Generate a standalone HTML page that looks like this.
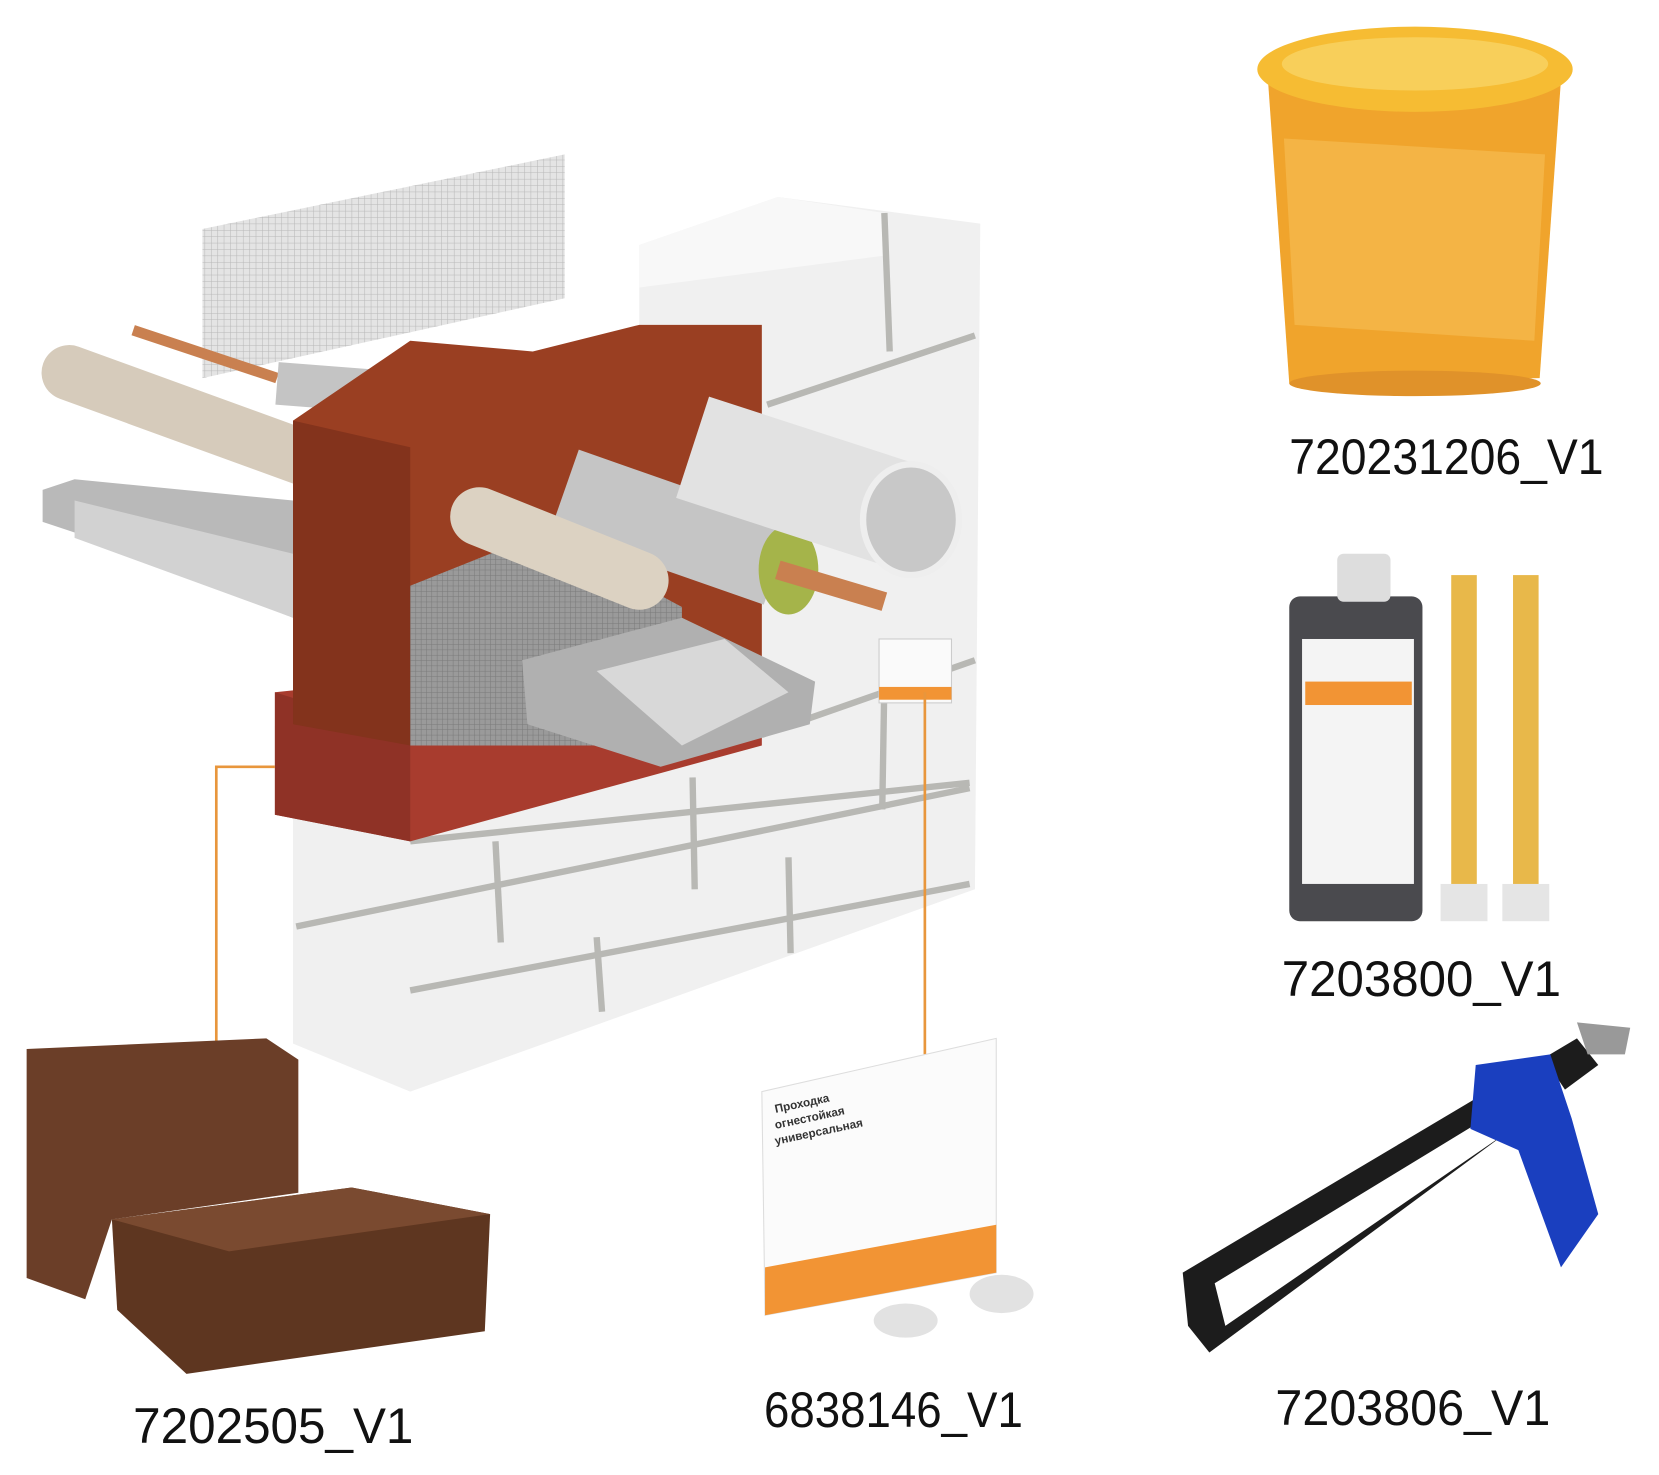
<!DOCTYPE html>
<html><head><meta charset="utf-8"><style>
html,body{margin:0;padding:0;background:#fff;width:1659px;height:1475px;overflow:hidden}
svg{display:block}
text{font-family:"Liberation Sans","Noto Sans CJK SC",sans-serif}
</style></head><body>
<svg width="1659" height="1475" viewBox="0 0 1557 1385" preserveAspectRatio="none" xmlns="http://www.w3.org/2000/svg">
<defs>
<pattern id="grid" width="6" height="6" patternUnits="userSpaceOnUse"><rect width="6" height="6" fill="#e4e4e4"/><path d="M0 0H6M0 0V6" stroke="#b8b8b8" stroke-width="1"/></pattern>
<pattern id="gridd" width="5" height="5" patternUnits="userSpaceOnUse"><rect width="5" height="5" fill="#9a9a9a"/><path d="M0 0H5M0 0V5" stroke="#7a7a7a" stroke-width="1"/></pattern>
</defs>
<!-- mesh -->
<polygon points="190,215 530,145 530,280 190,355" fill="url(#grid)"/>
<!-- back pipes -->
<line x1="125" y1="310" x2="260" y2="355" stroke="#c98050" stroke-width="10"/>
<line x1="65" y1="350" x2="285" y2="430" stroke="#d6cbbb" stroke-width="52" stroke-linecap="round"/>
<line x1="260" y1="360" x2="390" y2="370" stroke="#c4c4c4" stroke-width="40"/>
<polygon points="40,460 70,450 275,470 275,580 70,500 40,490" fill="#b9b9b9"/>
<polygon points="70,470 275,520 275,580 70,505" fill="#d2d2d2"/>
<!-- white wall -->
<polygon points="600,230 730,185 920,210 915,835 385,1025 275,980 275,760 600,640" fill="#f0f0f0"/>
<polygon points="600,230 730,185 830,200 830,240 600,270" fill="#f8f8f8"/>
<g stroke="#b8b8b4" stroke-width="6" fill="none">
<line x1="720" y1="380" x2="915" y2="315"/>
<line x1="830" y1="200" x2="835" y2="330"/>
<line x1="715" y1="690" x2="915" y2="620"/>
<line x1="385" y1="790" x2="910" y2="735"/>
<line x1="278" y1="870" x2="910" y2="740"/>
<line x1="465" y1="790" x2="470" y2="885"/>
<line x1="650" y1="730" x2="652" y2="835"/>
<line x1="560" y1="880" x2="565" y2="950"/>
<line x1="740" y1="805" x2="742" y2="895"/>
<line x1="830" y1="640" x2="828" y2="760"/>
<line x1="385" y1="930" x2="910" y2="830"/>
</g>
<!-- red brick row -->
<polygon points="258,650 500,625 715,690 715,700 385,790 258,765" fill="#a83c2e"/>
<polygon points="258,650 385,690 385,790 258,765" fill="#8f3226"/>
<!-- foam block -->
<polygon points="275,395 385,320 500,330 600,305 715,305 715,690 385,690 275,680" fill="#9a3f22"/>
<polygon points="275,395 385,420 385,700 275,680" fill="#83331c"/>
<polygon points="385,550 510,500 640,570 640,700 385,700" fill="url(#gridd)"/>
<!-- front pipes -->
<line x1="530" y1="460" x2="730" y2="530" stroke="#c5c5c5" stroke-width="80" stroke-linecap="butt"/>
<ellipse cx="740" cy="535" rx="28" ry="42" fill="#a5b44a"/>
<line x1="730" y1="535" x2="830" y2="565" stroke="#c98050" stroke-width="18"/>
<line x1="650" y1="420" x2="850" y2="485" stroke="#e2e2e2" stroke-width="100"/>
<ellipse cx="855" cy="488" rx="45" ry="52" fill="#c8c8c8" stroke="#eee" stroke-width="6"/>
<line x1="450" y1="485" x2="600" y2="545" stroke="#dcd2c2" stroke-width="55" stroke-linecap="round"/>
<polygon points="490,620 640,580 765,640 760,680 620,720 495,680" fill="#b0b0b0"/>
<polygon points="560,630 680,600 740,650 640,700" fill="#d8d8d8"/>
<rect x="825" y="600" width="68" height="60" fill="#fafafa" stroke="#ccc"/>
<rect x="825" y="645" width="68" height="12" fill="#f29434"/>
<!-- connectors -->
<polyline points="258,720 203,720 203,990" fill="none" stroke="#e8963c" stroke-width="2.5"/>
<line x1="868" y1="650" x2="868" y2="990" stroke="#e8963c" stroke-width="2.5"/>
<!-- bucket -->
<polygon points="1190,75 1465,75 1445,355 1210,360" fill="#f0a42c"/>
<ellipse cx="1328" cy="360" rx="118" ry="12" fill="#e0922a"/>
<ellipse cx="1328" cy="65" rx="148" ry="40" fill="#f6bc33"/>
<ellipse cx="1328" cy="60" rx="125" ry="25" fill="#f8cf5a"/>
<polygon points="1205,130 1450,145 1440,320 1215,305" fill="#f4b445"/>
<!-- cartridge -->
<rect x="1210" y="560" width="125" height="305" rx="10" fill="#4a4a4e"/>
<rect x="1255" y="520" width="50" height="45" rx="6" fill="#ddd"/>
<rect x="1222" y="600" width="105" height="230" fill="#f4f4f4"/>
<rect x="1225" y="640" width="100" height="22" fill="#f29434"/>
<rect x="1362" y="540" width="24" height="310" fill="#e8b84a"/>
<rect x="1420" y="540" width="24" height="310" fill="#e8b84a"/>
<rect x="1352" y="830" width="44" height="35" fill="#e5e5e5"/>
<rect x="1410" y="830" width="44" height="35" fill="#e5e5e5"/>
<!-- gun -->
<polygon points="1110,1195 1480,975 1500,1000 1135,1270 1115,1245" fill="#1c1c1c"/>
<polygon points="1140,1205 1460,1010 1470,1025 1150,1245" fill="#ffffff"/>
<polygon points="1385,1000 1455,990 1475,1050 1500,1140 1465,1190 1425,1080 1380,1060" fill="#1a3fbf"/>
<polygon points="1480,960 1530,965 1525,990 1490,990" fill="#999"/>
<!-- bricks -->
<polygon points="25,985 250,975 280,995 280,1120 105,1145 80,1220 25,1200" fill="#6b3e28"/>
<polygon points="105,1145 330,1115 460,1140 455,1250 175,1290 110,1230" fill="#5e3620"/>
<polygon points="105,1145 330,1115 460,1140 215,1175" fill="#7a4a30"/>
<!-- label card -->
<polygon points="715,1025 935,975 935,1195 718,1235" fill="#fbfbfb" stroke="#ddd"/>
<polygon points="718,1190 935,1150 935,1195 718,1235" fill="#f29434"/>
<g font-size="11" fill="#333"><text x="728" y="1045" transform="rotate(-12 728 1045)" font-weight="bold">Проходка</text><text x="728" y="1060" transform="rotate(-12 728 1060)" font-weight="bold">огнестойкая</text><text x="728" y="1075" transform="rotate(-12 728 1075)" font-weight="bold">универсальная</text></g>
<ellipse cx="850" cy="1240" rx="30" ry="16" fill="#e2e2e2"/>
<ellipse cx="940" cy="1215" rx="30" ry="18" fill="#e2e2e2"/>
<!-- labels -->
<g font-size="47" fill="#111">
<text x="1210" y="445" textLength="295" lengthAdjust="spacingAndGlyphs">720231206_V1</text>
<text x="1203" y="935" textLength="262" lengthAdjust="spacingAndGlyphs">7203800_V1</text>
<text x="1197" y="1338" textLength="258" lengthAdjust="spacingAndGlyphs">7203806_V1</text>
<text x="125" y="1355" textLength="263" lengthAdjust="spacingAndGlyphs">7202505_V1</text>
<text x="717" y="1340" textLength="243" lengthAdjust="spacingAndGlyphs">6838146_V1</text>
</g>
</svg>
</body></html>
